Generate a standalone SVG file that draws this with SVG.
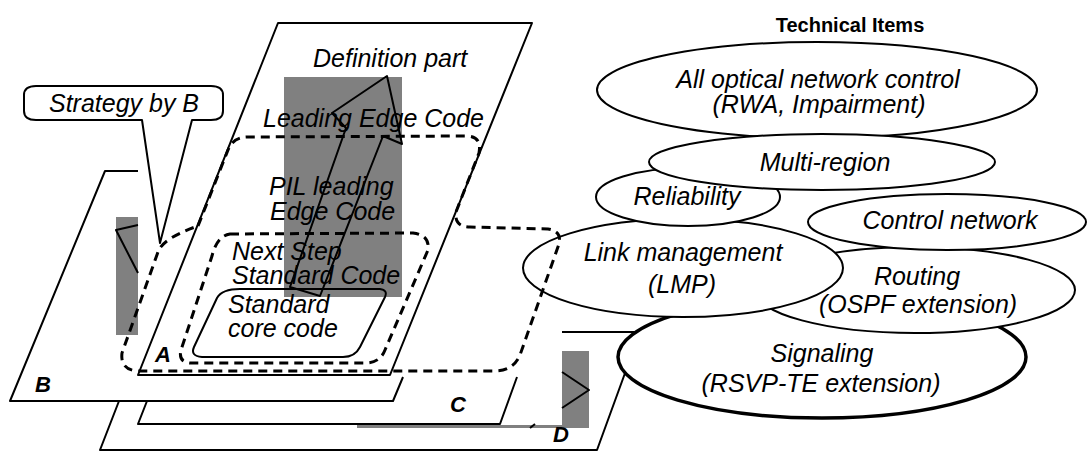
<svg xmlns="http://www.w3.org/2000/svg" width="1087" height="452" viewBox="0 0 1087 452">
<style>
.ln{fill:none;stroke:#000;stroke-width:2;stroke-linejoin:round}
.pg{fill:#fff;stroke:#000;stroke-width:2;stroke-linejoin:round}
.el{fill:#fff;stroke:#000;stroke-width:2}
.elb{fill:#fff;stroke:#000;stroke-width:3.5}
.ds{fill:none;stroke:#000;stroke-width:3;stroke-dasharray:9 6}
.gr{fill:#808080;stroke:none}
.t{font-family:"Liberation Sans",Arial,sans-serif;font-style:italic;font-size:25px;fill:#000}
.tc{font-family:"Liberation Sans",Arial,sans-serif;font-style:italic;font-size:25px;fill:#000;text-anchor:middle}
.lt{font-family:"Liberation Sans",Arial,sans-serif;font-style:italic;font-weight:bold;font-size:22px;fill:#000}
.hd{font-family:"Liberation Sans",Arial,sans-serif;font-weight:bold;font-size:20px;fill:#000;text-anchor:middle}
</style>
<rect width="1087" height="452" fill="#fff"/>
<g id="pageD">
<path class="ln" d="M119,401 L100,450 L597,450 L640,332 L562,332"/>
</g>
<g id="pageC">
<path class="ln" d="M147,401 L138,424 L500,424 L517,377"/>
</g>
<g id="pageB">
<path class="ln" d="M138,171 L105,171 L10,401 L393,401 L403,377"/>
</g>
<g id="pageA">
<polygon class="pg" points="278,23 532,23 390,375 138,375"/>
</g>
<g id="items">
<g id="signaling"><ellipse class="elb" cx="822" cy="357" rx="204" ry="61"/>
<text class="tc" x="822" y="362">Signaling</text><text class="tc" x="821" y="392">(RSVP-TE extension)</text></g>
<g id="routing"><ellipse class="el" cx="915" cy="290" rx="160" ry="43"/>
<text class="tc" x="917" y="285">Routing</text><text class="tc" x="918" y="313">(OSPF extension)</text></g>
<g id="control"><ellipse class="el" cx="947" cy="222" rx="139" ry="28"/>
<text class="tc" x="950" y="229">Control network</text></g>
<g id="link"><ellipse class="el" cx="683" cy="268" rx="160" ry="49"/>
<text class="tc" x="683" y="261">Link management</text><text class="tc" x="682" y="293">(LMP)</text></g>
<g id="reliability"><ellipse class="el" cx="688" cy="197" rx="92" ry="29"/>
<text class="tc" x="687" y="205">Reliability</text></g>
<g id="alloptical"><ellipse class="el" cx="817" cy="90" rx="220" ry="48"/>
<text class="tc" x="818" y="88">All optical network control</text><text class="tc" x="819" y="113">(RWA, Impairment)</text></g>
<g id="multiregion"><ellipse class="el" cx="822" cy="162" rx="173" ry="28"/>
<text class="tc" x="825" y="171">Multi-region</text></g>
</g>
<g id="gray">
<rect class="gr" x="284" y="77" width="118" height="220"/>
<rect class="gr" x="116" y="217" width="22" height="118"/>
<rect class="gr" x="562" y="351" width="27" height="77"/>
<rect class="gr" x="357" y="425" width="205" height="3"/>
<path class="ln" d="M138,225 L116,230 L138,273"/>
<path class="ln" d="M562,372 L589,390 L562,408"/>
<path class="ln" d="M530,428 L535,424"/>
</g>
<g id="callout">
<path class="pg" d="M36,86 L211,86 Q223,86 223,95 L223,111 Q223,120 211,120 L192,120 L160,243 L142,120 L36,120 Q24,120 24,111 L24,95 Q24,86 36,86 Z"/>
<text class="tc" x="124" y="112">Strategy by B</text>
</g>
<g id="connectors">
<path class="ds" d="M198,226 L228,150 Q233,137 248,137 L468,136 Q482,137 479,153 L456,212 Q454,227 470,227 L548,229 Q562,231 559,244 L520,355 Q513,371 495,371 L138,371 Q120,370 122,353 L158,252 Q163,238 198,226 Z"/>
<path class="ds" d="M230,234 L413,233 Q430,235 428,250 L385,350 Q380,363 365,363 L190,363 Q178,362 181,350 L212,256 Q217,236 230,234 Z"/>
<path class="ln" d="M240,289 L380,289 Q388,290 385,297 L360,347 Q355,357 343,357 L202,357 Q190,356 194,347 L217,298 Q222,289 240,289 Z"/>
<polygon class="ln" points="290,287 346,128 332,113 387,76 402,144 383,136 320,296"/>
</g>
<g id="labels">
<text class="t" x="313" y="67">Definition part</text>
<text class="t" x="263" y="127">Leading Edge Code</text>
<text class="t" x="269" y="195">PIL leading</text>
<text class="t" x="270" y="220">Edge Code</text>
<text class="t" x="232" y="260">Next Step</text>
<text class="t" x="232" y="284">Standard Code</text>
<text class="t" x="228" y="313">Standard</text>
<text class="t" x="228" y="337">core code</text>
<text class="lt" x="155" y="362">A</text>
<text class="lt" x="35" y="392">B</text>
<text class="lt" x="450" y="412">C</text>
<text class="lt" x="553" y="442">D</text>
<text class="hd" x="850" y="32">Technical Items</text>
</g>
</svg>
